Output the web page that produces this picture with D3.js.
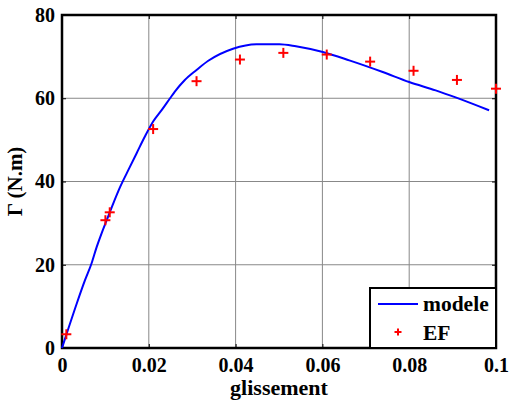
<!DOCTYPE html>
<html><head><meta charset="utf-8">
<script src="https://cdn.jsdelivr.net/npm/d3@7"></script>
</head><body style="margin:0;background:#fff">
<script>
const modelSlip = [0,0.0011,0.0034,0.0053,0.0068,0.008,0.0091,0.0103,0.0118,0.0134,0.0155,0.0172,0.0191,0.0210,0.0230,0.0249,0.0260,0.0283,0.0310,0.0337,0.0394,0.0448,0.0501,0.0539,0.0601,0.0662,0.0739,0.080,0.0861,0.0907,0.0984];
const modelTorque = [0,3.5,10.7,16.3,20.3,24.3,27.5,30.7,34.7,38.7,43.2,46.8,50.8,54.4,57.2,60.0,61.6,64.4,66.8,69.0,71.9,73.0,73.0,72.5,71.1,69.1,66.3,63.9,61.9,60.2,57.1];
const efSlip = [0.001,0.01,0.011,0.021,0.031,0.041,0.051,0.061,0.071,0.081,0.091,0.1];
const efTorque = [3.3,30.7,32.6,52.6,64.1,69.3,70.9,70.5,68.8,66.6,64.4,62.3];
const xTicks = [0,0.02,0.04,0.06,0.08,0.1];
const yTicks = [0,20,40,60,80];

const FONT="Liberation Serif";
const W=510,H=403, L=62, R=496, T=15, B=348;
const svg=d3.select("body").append("svg").attr("width",W).attr("height",H)
  .attr("font-family",FONT).attr("font-weight","bold");
const x=d3.scaleLinear().domain([0,0.1]).range([L,R]);
const y=d3.scaleLinear().domain([0,80]).range([B,T]);

// grid
svg.append("g").selectAll("line").data(xTicks.slice(1,-1)).join("line")
  .attr("x1",d=>x(d)).attr("x2",d=>x(d)).attr("y1",T).attr("y2",B)
  .attr("stroke","#888").attr("stroke-width",1);
svg.append("g").selectAll("line").data(yTicks.slice(1,-1)).join("line")
  .attr("y1",d=>y(d)).attr("y2",d=>y(d)).attr("x1",L).attr("x2",R)
  .attr("stroke","#888").attr("stroke-width",1);

// axes
const xa=svg.append("g").attr("transform",`translate(0,${B})`)
  .call(d3.axisBottom(x).tickValues(xTicks).tickSize(-4).tickPadding(10).tickFormat(d=>d===0?"0":String(d)));
const xa2=svg.append("g").attr("transform",`translate(0,${T})`)
  .call(d3.axisTop(x).tickValues(xTicks).tickSize(-4).tickFormat(""));
const ya=svg.append("g").attr("transform",`translate(${L},0)`)
  .call(d3.axisLeft(y).tickValues(yTicks).tickSize(-4).tickPadding(7));
const ya2=svg.append("g").attr("transform",`translate(${R},0)`)
  .call(d3.axisRight(y).tickValues(yTicks).tickSize(-4).tickFormat(""));
[xa,xa2,ya,ya2].forEach(g=>{
  g.attr("font-family",FONT).attr("font-size",20);
  g.select(".domain").remove();
  g.selectAll(".tick line").attr("stroke","#000").attr("stroke-width",1);
  g.selectAll("text").attr("font-family",FONT).attr("font-weight","bold").attr("font-size",20).attr("fill","#000");
});
svg.append("rect").attr("x",L).attr("y",T).attr("width",R-L).attr("height",B-T)
  .attr("fill","none").attr("stroke","#000").attr("stroke-width",2.5);

// curve
svg.append("path").datum(modelSlip.map((s,i)=>[s,modelTorque[i]]))
  .attr("d",d3.line().x(d=>x(d[0])).y(d=>y(d[1])).curve(d3.curveMonotoneX))
  .attr("fill","none").attr("stroke","#0000ff").attr("stroke-width",2);

// markers
const plus=(g,cx,cy,s)=>{g.append("line").attr("x1",cx-s).attr("x2",cx+s).attr("y1",cy).attr("y2",cy);
  g.append("line").attr("x1",cx).attr("x2",cx).attr("y1",cy-s).attr("y2",cy+s);};
const mk=svg.append("g").attr("stroke","#ff0000").attr("stroke-width",2);
efSlip.forEach((s,i)=>plus(mk,x(s),y(efTorque[i]),5));

// labels
const txt=(sel,fs)=>sel.attr("font-family",FONT).attr("font-weight","bold").attr("font-size",fs).attr("fill","#000");
txt(svg.append("text").attr("x",(L+R)/2).attr("y",395).attr("text-anchor","middle"),22).text("glissement");
txt(svg.append("text").attr("transform",`translate(22,${(T+B)/2}) rotate(-90)`).attr("text-anchor","middle"),21).text("Γ (N.m)");

// legend
const lg=svg.append("g");
lg.append("rect").attr("x",370).attr("y",288).attr("width",R-370).attr("height",B-288)
  .attr("fill","#fff").attr("stroke","#000").attr("stroke-width",2);
lg.append("line").attr("x1",378).attr("x2",418).attr("y1",304).attr("y2",304).attr("stroke","#0000ff").attr("stroke-width",2);
txt(lg.append("text").attr("x",423).attr("y",311),21.5).text("modele");
const lm=lg.append("g").attr("stroke","#ff0000").attr("stroke-width",2);
plus(lm,398,332,3.5);
txt(lg.append("text").attr("x",423).attr("y",340),21.5).text("EF");
</script>
</body></html>
